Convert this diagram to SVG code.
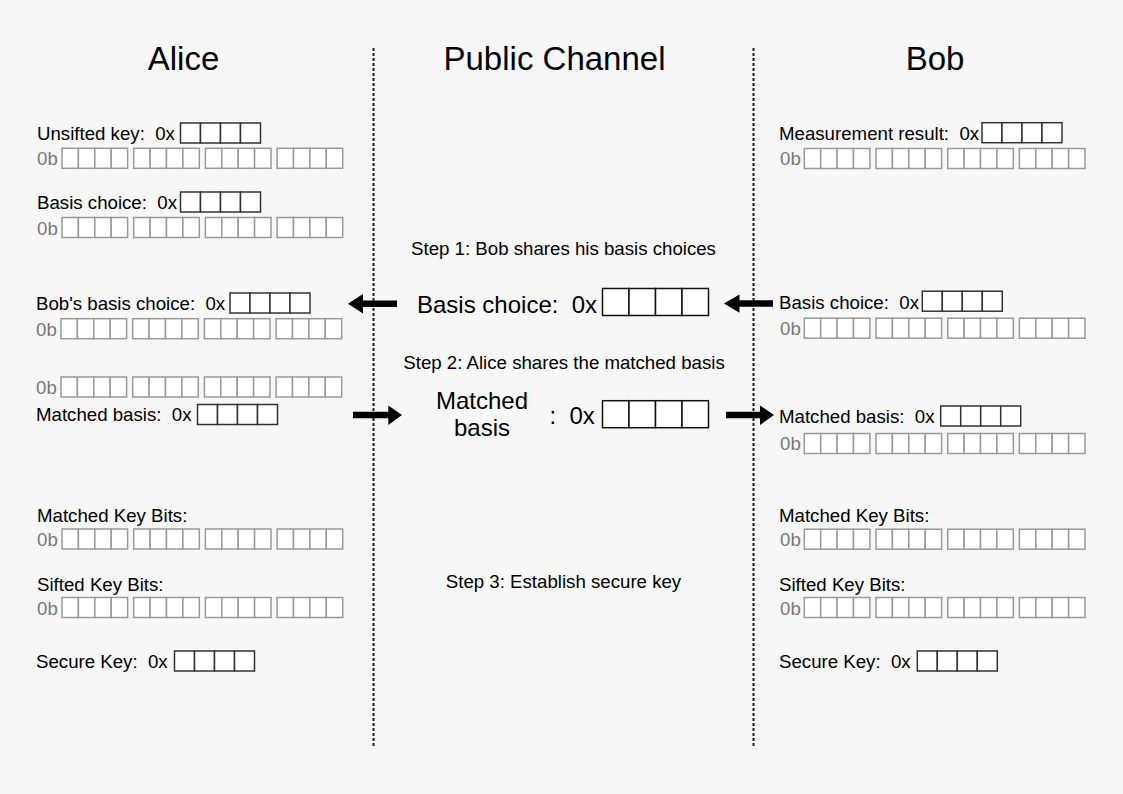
<svg xmlns="http://www.w3.org/2000/svg" xmlns:xlink="http://www.w3.org/1999/xlink" width="1123" height="794" viewBox="0 0 1123 794">
<style>
text{font-family:"Liberation Sans",Arial,Helvetica,sans-serif;fill:#000}
.title{font-size:33px;text-anchor:middle}
.lbl{font-size:18.67px}
.step{font-size:18.67px;text-anchor:middle}
.big{font-size:24px}
.bin{font-size:18.67px;fill:#777}
.hc{fill:#fff;stroke:#333;stroke-width:1.5}
.bc{fill:#fff;stroke:#9a9a9a;stroke-width:1.5}
.hcb{fill:#fff;stroke:#111;stroke-width:1.5}
.div{stroke:#222;stroke-width:2;stroke-dasharray:3 2;fill:none}
.arr{fill:#000}
</style>
<defs>
<g id="hex">
<rect class="hc" x="0" y="0" width="20" height="20"/>
<rect class="hc" x="20" y="0" width="20" height="20"/>
<rect class="hc" x="40" y="0" width="20" height="20"/>
<rect class="hc" x="60" y="0" width="20" height="20"/>
</g>
<g id="nib">
<rect class="bc" x="0" y="0" width="16.4" height="20"/>
<rect class="bc" x="16.4" y="0" width="16.4" height="20"/>
<rect class="bc" x="32.8" y="0" width="16.4" height="20"/>
<rect class="bc" x="49.2" y="0" width="16.4" height="20"/>
</g>
<g id="bin">
<use xlink:href="#nib" href="#nib" x="0" y="0"/>
<use xlink:href="#nib" href="#nib" x="71.7" y="0"/>
<use xlink:href="#nib" href="#nib" x="143.4" y="0"/>
<use xlink:href="#nib" href="#nib" x="215.1" y="0"/>
</g>
<g id="hexbig">
<rect class="hcb" x="0" y="0" width="26.5" height="27"/>
<rect class="hcb" x="26.5" y="0" width="26.5" height="27"/>
<rect class="hcb" x="53" y="0" width="26.5" height="27"/>
<rect class="hcb" x="79.5" y="0" width="26.5" height="27"/>
</g>
</defs>
<rect x="0" y="0" width="1123" height="794" fill="#f7f7f7"/>

<g id="dividers">
<line class="div" x1="373.5" y1="48" x2="373.5" y2="746"/>
<line class="div" x1="753.5" y1="48" x2="753.5" y2="746"/>
</g>

<g id="titles">
<text id="title-alice" class="title" x="183.5" y="70">Alice</text>
<text id="title-public" class="title" x="554.5" y="70">Public Channel</text>
<text id="title-bob" class="title" x="935" y="70">Bob</text>
</g>

<!-- Alice -->
<g id="alice-unsifted">
<text class="lbl" x="37" y="139.5" xml:space="preserve">Unsifted key:  0x</text>
<use xlink:href="#hex" href="#hex" x="180.5" y="123"/>
<text class="bin" x="37" y="165">0b</text>
<use xlink:href="#bin" href="#bin" x="62" y="148.3"/>
</g>
<g id="alice-basis">
<text class="lbl" x="37" y="208.5" xml:space="preserve">Basis choice:  0x</text>
<use xlink:href="#hex" href="#hex" x="180.5" y="192"/>
<text class="bin" x="37" y="234.5">0b</text>
<use xlink:href="#bin" href="#bin" x="62" y="217.5"/>
</g>
<g id="alice-bobbasis">
<text class="lbl" x="36" y="310" xml:space="preserve">Bob's basis choice:  0x</text>
<use xlink:href="#hex" href="#hex" x="230" y="293"/>
<text class="bin" x="36" y="336">0b</text>
<use xlink:href="#bin" href="#bin" x="61" y="318.7"/>
</g>
<g id="alice-matched">
<text class="bin" x="36" y="394">0b</text>
<use xlink:href="#bin" href="#bin" x="61" y="377"/>
<text class="lbl" x="36" y="421" xml:space="preserve">Matched basis:  0x</text>
<use xlink:href="#hex" href="#hex" x="197.5" y="404.5"/>
</g>
<g id="alice-matchedkey">
<text class="lbl" x="37" y="521.5">Matched Key Bits:</text>
<text class="bin" x="37" y="546">0b</text>
<use xlink:href="#bin" href="#bin" x="62" y="529"/>
</g>
<g id="alice-sifted">
<text class="lbl" x="37" y="590.5">Sifted Key Bits:</text>
<text class="bin" x="37" y="614.5">0b</text>
<use xlink:href="#bin" href="#bin" x="62" y="597.5"/>
</g>
<g id="alice-secure">
<text class="lbl" x="36" y="667.5" xml:space="preserve">Secure Key:  0x</text>
<use xlink:href="#hex" href="#hex" x="174.5" y="651"/>
</g>

<!-- Public channel -->
<g id="step1">
<text class="step" x="563.5" y="255">Step 1: Bob shares his basis choices</text>
</g>
<g id="public-basis">
<text class="big" x="417" y="313" xml:space="preserve">Basis choice:  0x</text>
<use xlink:href="#hexbig" href="#hexbig" x="602.5" y="288.5"/>
</g>
<g id="step2">
<text class="step" x="564" y="369">Step 2: Alice shares the matched basis</text>
</g>
<g id="public-matched">
<text class="big" text-anchor="middle"><tspan x="482" y="408.5">Matched</tspan><tspan x="482" y="435.5">basis</tspan></text>
<text class="big" x="549.5" y="424" xml:space="preserve">:  0x</text>
<use xlink:href="#hexbig" href="#hexbig" x="602.5" y="400.7"/>
</g>
<g id="step3">
<text class="step" x="563.5" y="588">Step 3: Establish secure key</text>
</g>

<!-- Bob -->
<g id="bob-measurement">
<text class="lbl" x="779" y="139.5" xml:space="preserve">Measurement result:  0x</text>
<use xlink:href="#hex" href="#hex" x="982" y="122.7"/>
<text class="bin" x="780" y="165">0b</text>
<use xlink:href="#bin" href="#bin" x="804.3" y="148.5"/>
</g>
<g id="bob-basis">
<text class="lbl" x="779" y="308.5" xml:space="preserve">Basis choice:  0x</text>
<use xlink:href="#hex" href="#hex" x="922.3" y="291.2"/>
<text class="bin" x="780" y="335">0b</text>
<use xlink:href="#bin" href="#bin" x="804.3" y="318.2"/>
</g>
<g id="bob-matched">
<text class="lbl" x="779" y="423" xml:space="preserve">Matched basis:  0x</text>
<use xlink:href="#hex" href="#hex" x="940.7" y="406"/>
<text class="bin" x="780" y="450">0b</text>
<use xlink:href="#bin" href="#bin" x="804.3" y="433.5"/>
</g>
<g id="bob-matchedkey">
<text class="lbl" x="779" y="521.5">Matched Key Bits:</text>
<text class="bin" x="780" y="546">0b</text>
<use xlink:href="#bin" href="#bin" x="804.3" y="529.2"/>
</g>
<g id="bob-sifted">
<text class="lbl" x="779" y="590.5">Sifted Key Bits:</text>
<text class="bin" x="780" y="614.5">0b</text>
<use xlink:href="#bin" href="#bin" x="804.3" y="597.5"/>
</g>
<g id="bob-secure">
<text class="lbl" x="779" y="668" xml:space="preserve">Secure Key:  0x</text>
<use xlink:href="#hex" href="#hex" x="917.3" y="651"/>
</g>

<g id="connectors">
<polygon class="arr" points="348,303.7 363,294 363,300.5 397,300.5 397,307 363,307 363,313.5"/>
<polygon class="arr" points="724,303.5 739.5,294.5 739.5,300.3 773,300.3 773,306.8 739.5,306.8 739.5,312.8"/>
<polygon class="arr" points="402,415 388.3,405.5 388.3,411.7 353,411.7 353,418.3 388.3,418.3 388.3,425"/>
<polygon class="arr" points="774,415 760,405.5 760,411.7 726,411.7 726,418.3 760,418.3 760,425"/>
</g>
</svg>
